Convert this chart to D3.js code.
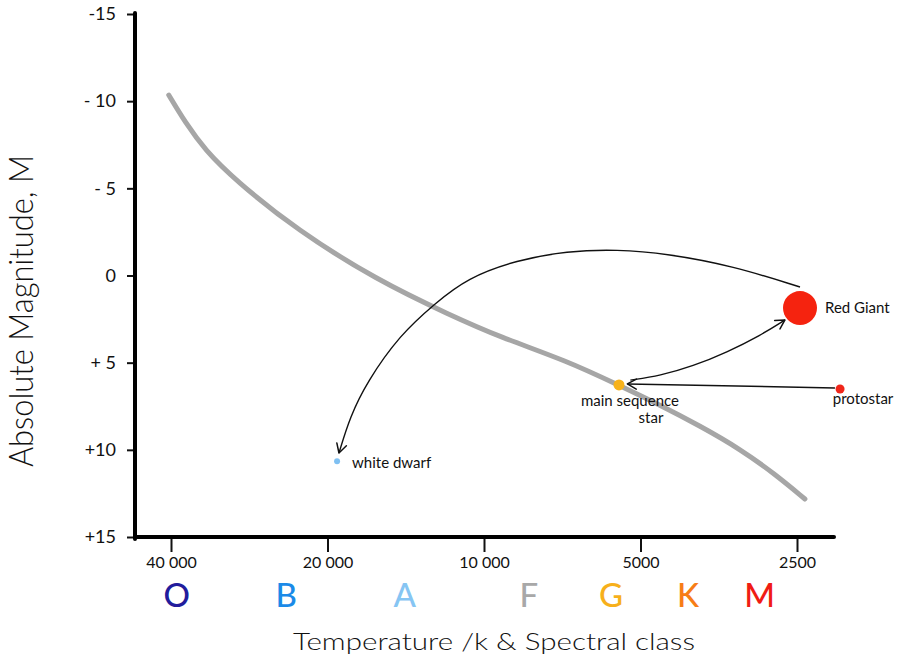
<!DOCTYPE html>
<html><head><meta charset="utf-8">
<script src="https://cdn.jsdelivr.net/npm/d3@7"></script>
<style>body{margin:0;background:#fff} svg{display:block}</style>
</head><body>
<svg id="c" width="906" height="662"></svg>
<script>
// ---- data ----
const tempTicks = [40000, 20000, 10000, 5000, 2500];
const tempTickLabels = ["40 000", "20 000", "10 000", "5000", "2500"];
const magTicks = [-15, -10, -5, 0, 5, 10, 15];
const magTickLabels = ["-15", "- 10", "- 5", "0", "+ 5", "+10", "+15"];

const spectralClasses = ["O", "B", "A", "F", "G", "K", "M"];
const spectralTemps = [39000, 24000, 14200, 8200, 5700, 4050, 2950];

const mainSeqT = [40400, 37600, 34410, 30120, 22900, 16070, 11620, 9320, 6920, 5500, 4586, 3842, 3218, 2757, 2414];
const mainSeqM = [-10.35, -8.80, -7.20, -5.48, -2.61, 0.26, 2.27, 3.53, 4.90, 6.30, 7.43, 8.63, 9.95, 11.39, 12.82];

const starNames = ["protostar", "main sequence star", "Red Giant", "white dwarf"];
const starT = [2066, 5500, 2467, 19170];
const starM = [6.51, 6.28, 1.87, 10.65];

const arrowProtoT = [2113, 5300];
const arrowProtoM = [6.45, 6.22];
const arrowGiantT = [5230, 4586, 3964, 3409, 2945, 2637];
const arrowGiantM = [6.00, 5.75, 5.20, 4.40, 3.45, 2.55];
const arrowDwarfT = [2467, 3320, 4445, 5548, 6924, 8640, 10780, 12420, 14510, 16790, 18100, 19010];
const arrowDwarfM = [0.66, -0.55, -1.25, -1.50, -1.40, -0.89, 0.15, 1.60, 3.40, 6.10, 8.10, 10.18];

// ---- styles ----
const spectralColors = ["#221c9c", "#1a8ae8", "#86c5f3", "#a8a8a8", "#f7b01b", "#f77d16", "#f01c14"];
const starStyle = {
  "protostar": {r: 4.5, fill: "#f0261a"},
  "main sequence star": {r: 5.5, fill: "#f7b21b"},
  "Red Giant": {r: 17, fill: "#f5230f"},
  "white dwarf": {r: 3, fill: "#7fc0f2"}
};
const FONT = "Lato, 'Open Sans', sans-serif";

// ---- layout ----
const L = 135, R = 834, T = 14, B = 537;
const x = d3.scaleLog().domain([40000, 2500]).range([171, 797]);
const y = d3.scaleLinear().domain([-15, 15]).range([T, B]);

const svg = d3.select("#c");
svg.append("rect").attr("width", 906).attr("height", 662).attr("fill", "#fff");

const defs = svg.append("defs");
defs.append("marker").attr("id", "arr")
  .attr("viewBox", "-12 -7 14 14").attr("refX", 0).attr("refY", 0)
  .attr("markerWidth", 14).attr("markerHeight", 14)
  .attr("markerUnits", "userSpaceOnUse").attr("orient", "auto")
  .append("path").attr("d", "M-9,-5 L0,0 L-9,5")
  .attr("fill", "none").attr("stroke", "#111").attr("stroke-width", 1.5)
  .attr("stroke-linecap", "round").attr("stroke-linejoin", "round");

// main sequence curve
const smooth = d3.line().x(d => x(d[0])).y(d => y(d[1])).curve(d3.curveBasis);
svg.append("path")
  .attr("d", smooth(d3.zip(mainSeqT, mainSeqM)))
  .attr("fill", "none").attr("stroke", "#a6a6a6").attr("stroke-width", 5)
  .attr("stroke-linecap", "round");

// arrows
[[arrowProtoT, arrowProtoM], [arrowGiantT, arrowGiantM], [arrowDwarfT, arrowDwarfM]].forEach(([ts, ms]) => {
  svg.append("path")
    .attr("d", smooth(d3.zip(ts, ms)))
    .attr("fill", "none").attr("stroke", "#111").attr("stroke-width", 1.4)
    .attr("marker-end", "url(#arr)");
});

// axes
const yAxis = d3.axisLeft(y).tickValues(magTicks).tickSize(8).tickPadding(11)
  .tickFormat((d, i) => magTickLabels[i]);
const gy = svg.append("g").attr("transform", `translate(${L},0)`).call(yAxis);
gy.select(".domain").remove();
gy.selectAll(".tick line").attr("stroke", "#111").attr("stroke-width", 2);
gy.selectAll(".tick text").attr("font-family", FONT).attr("font-size", 18).attr("fill", "#111");

const xAxis = d3.axisBottom(x).tickValues(tempTicks).tickSize(15).tickPadding(5)
  .tickFormat((d, i) => tempTickLabels[i]);
const gx = svg.append("g").attr("transform", `translate(0,${B})`).call(xAxis);
gx.select(".domain").remove();
gx.selectAll(".tick line").attr("stroke", "#111").attr("stroke-width", 2);
gx.selectAll(".tick text").attr("font-family", FONT).attr("font-size", 16).attr("fill", "#111");

svg.append("line").attr("x1", L).attr("x2", L).attr("y1", T - 1).attr("y2", B + 2)
  .attr("stroke", "#000").attr("stroke-width", 4).attr("stroke-linecap", "round");
svg.append("line").attr("x1", L).attr("x2", R).attr("y1", B).attr("y2", B)
  .attr("stroke", "#000").attr("stroke-width", 4).attr("stroke-linecap", "round");

// spectral class letters
svg.append("g").selectAll("text").data(spectralClasses).join("text")
  .attr("x", (d, i) => x(spectralTemps[i])).attr("y", 607)
  .attr("text-anchor", "middle").attr("font-family", FONT).attr("font-size", 33)
  .attr("font-weight", 500)
  .attr("fill", (d, i) => spectralColors[i]).text(d => d);

// stars
const stars = starNames.map((n, i) => ({name: n, t: starT[i], m: starM[i]}));
svg.append("g").selectAll("circle").data(stars).join("circle")
  .attr("cx", d => x(d.t)).attr("cy", d => y(d.m))
  .attr("r", d => starStyle[d.name].r).attr("fill", d => starStyle[d.name].fill);

// star labels
const lab = (txt, px, py, anchor) => svg.append("text").attr("x", px).attr("y", py)
  .attr("text-anchor", anchor).attr("font-family", FONT).attr("font-size", 15)
  .attr("fill", "#111").text(txt);
const sp = stars.map(d => [x(d.t), y(d.m)]);
lab("protostar", sp[0][0] + 23, sp[0][1] + 15, "middle");
lab("main sequence", sp[1][0] + 11, sp[1][1] + 21, "middle");
lab("star", sp[1][0] + 32, sp[1][1] + 38, "middle");
lab("Red Giant", sp[2][0] + 25, sp[2][1] + 5, "start");
lab("white dwarf", sp[3][0] + 15, sp[3][1] + 7, "start");

// axis titles
svg.append("text").attr("transform", "translate(33,311) rotate(-90)")
  .attr("text-anchor", "middle").attr("font-family", FONT).attr("font-size", 33)
  .attr("font-weight", 300).attr("fill", "#111")
  .attr("textLength", 312).attr("lengthAdjust", "spacingAndGlyphs")
  .text("Absolute Magnitude, M");
svg.append("text").attr("x", 293).attr("y", 650)
  .attr("font-family", FONT).attr("font-size", 24).attr("font-weight", 300).attr("fill", "#111")
  .attr("textLength", 402).attr("lengthAdjust", "spacingAndGlyphs")
  .text("Temperature /k  & Spectral class");
</script>
</body></html>
